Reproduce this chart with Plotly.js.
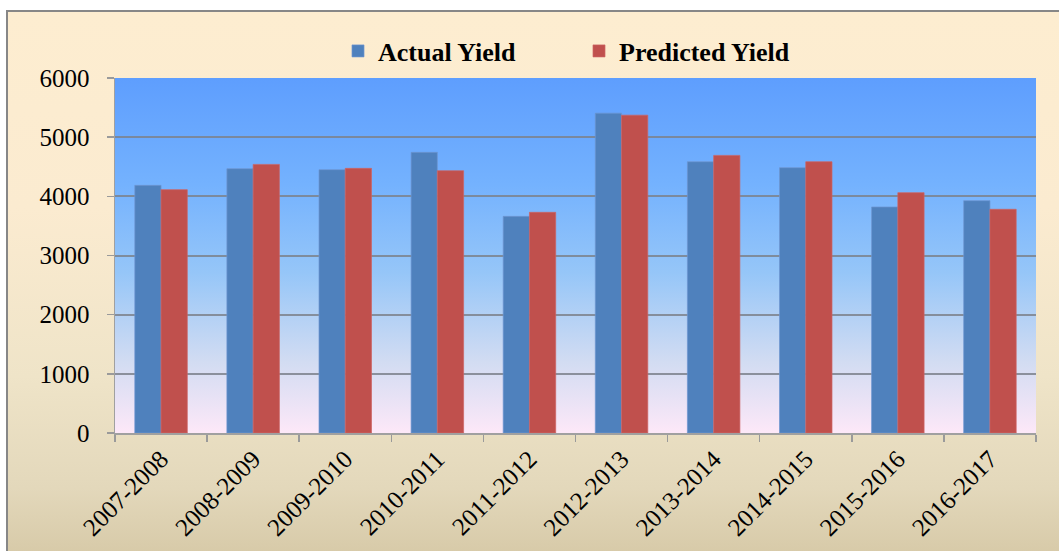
<!DOCTYPE html>
<html>
<head>
<meta charset="utf-8">
<script src="https://cdn.plot.ly/plotly-3.0.1.min.js"></script>
<style>
  html, body { margin: 0; padding: 0; background: #ffffff; overflow: hidden; }
  #frame {
    position: absolute; left: 6px; top: 10px; width: 1080px; height: 560px;
    border-left: 2px solid #878787; border-top: 2px solid #878787;
    background: linear-gradient(to bottom, #fdedd0 0%, #fbebd0 35%, #efe4c8 65%, #e3d8bb 85%, #d4c6a3 100%);
  }
  #chart { position: absolute; left: 0; top: 0; width: 1059px; height: 551px; }
</style>
</head>
<body>
<div id="frame"></div>
<div id="chart"></div>
<script>
const seasons = ["2007-2008","2008-2009","2009-2010","2010-2011","2011-2012","2012-2013","2013-2014","2014-2015","2015-2016","2016-2017"];
const actualYield = [4186, 4467, 4450, 4743, 3662, 5406, 4585, 4484, 3820, 3927];
const predictedYield = [4113, 4540, 4473, 4433, 3730, 5372, 4692, 4585, 4062, 3781];
const yTicks = [0, 1000, 2000, 3000, 4000, 5000, 6000];

const gradSvg = '<svg xmlns="http://www.w3.org/2000/svg" width="100" height="100" preserveAspectRatio="none">' +
  '<defs><linearGradient id="g" x1="0" y1="0" x2="0" y2="1">' +
  '<stop offset="0" stop-color="#5e9efe"/>' +
  '<stop offset="0.3" stop-color="#74b2fe"/>' +
  '<stop offset="0.55" stop-color="#96c6f8"/>' +
  '<stop offset="0.8" stop-color="#d2dcf2"/>' +
  '<stop offset="1" stop-color="#fde8f8"/>' +
  '</linearGradient></defs><rect width="100" height="100" fill="url(#g)"/></svg>';
const gradUri = 'data:image/svg+xml;charset=utf-8,' + encodeURIComponent(gradSvg);

const serif = "'Liberation Serif', 'Times New Roman', serif";

const traces = [
  { type: 'bar', name: 'Actual Yield', x: seasons, y: actualYield,
    marker: { color: '#4f81bd', line: { color: 'rgba(110,150,210,0.7)', width: 1 } } },
  { type: 'bar', name: 'Predicted Yield', x: seasons, y: predictedYield,
    marker: { color: '#c0504d', line: { color: 'rgba(205,100,100,0.7)', width: 1 } } }
];

const layout = {
  width: 1059, height: 551,
  margin: { l: 115, r: 23, t: 78, b: 118, pad: 0 },
  paper_bgcolor: 'rgba(0,0,0,0)',
  plot_bgcolor: 'rgba(0,0,0,0)',
  barmode: 'group',
  bargap: 0.43,
  bargroupgap: 0,
  showlegend: true,
  legend: {
    orientation: 'h', xref: 'container', yref: 'container',
    x: 338 / 1059, xanchor: 'left', y: 1 - 51 / 551, yanchor: 'middle',
    font: { family: serif, size: 26, color: '#000000', weight: 'bold' },
    bgcolor: 'rgba(0,0,0,0)', entrywidth: 196, entrywidthmode: 'pixels',
    itemwidth: 30
  },
  font: { family: serif, color: '#000000' },
  xaxis: {
    type: 'category',
    tickangle: -45,
    tickson: 'boundaries',
    ticks: 'outside', ticklen: 7, tickwidth: 1.5, tickcolor: '#9a9a9a',
    showline: true, linecolor: '#a0a0a0', linewidth: 1.5,
    showgrid: false,
    tickfont: { family: serif, size: 25, color: '#000000' },
    mirror: false
  },
  yaxis: {
    range: [0, 6000],
    tickvals: yTicks,
    ticktext: yTicks.map(String),
    ticks: 'outside', ticklen: 7, tickwidth: 1.5, tickcolor: '#9a9a9a',
    ticklabelstandoff: 12,
    showline: true, linecolor: '#a0a0a0', linewidth: 1.5,
    showgrid: true, gridcolor: 'rgba(125,130,140,0.85)', gridwidth: 2,
    zeroline: false,
    tickfont: { family: serif, size: 25, color: '#000000' }
  },
  images: [{
    source: gradUri, xref: 'paper', yref: 'paper', x: 0, y: 1, sizex: 1, sizey: 1,
    xanchor: 'left', yanchor: 'top', sizing: 'stretch', layer: 'below'
  }]
};

Plotly.newPlot('chart', traces, layout, { displayModeBar: false, staticPlot: true });
</script>
</body>
</html>
